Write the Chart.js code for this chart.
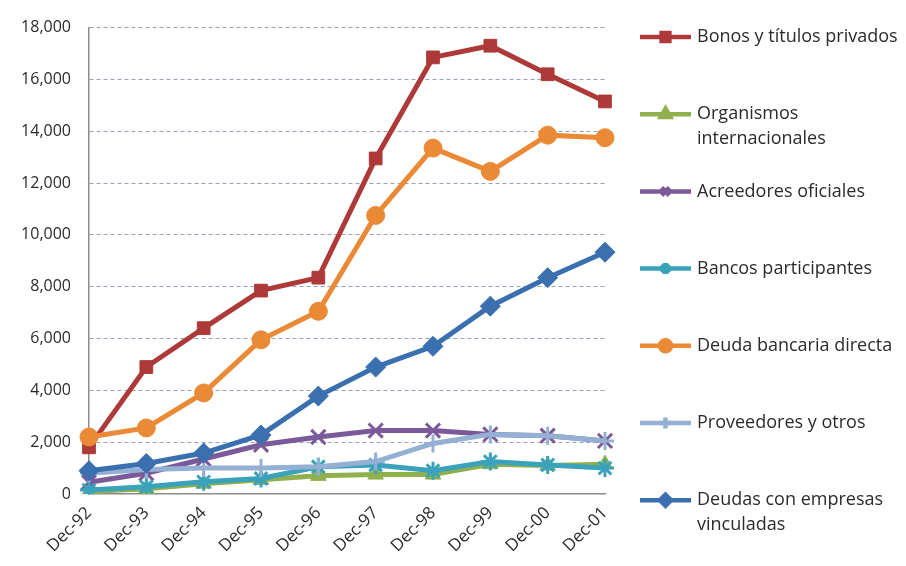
<!DOCTYPE html>
<html>
<head>
<meta charset="utf-8">
<script src="https://cdn.jsdelivr.net/npm/chart.js@4.4.0/dist/chart.umd.min.js"></script>
<style>
  html, body { margin: 0; padding: 0; background: #fff; }
  #wrap { width: 906px; height: 566px; position: relative; }
</style>
</head>
<body>
<div id="wrap"><canvas id="chart" width="906" height="566"></canvas></div>
<script>
const years = ["Dec-92", "Dec-93", "Dec-94", "Dec-95", "Dec-96", "Dec-97", "Dec-98", "Dec-99", "Dec-00", "Dec-01"];

const bonos       = [1800, 4900, 6400, 7850, 8350, 12950, 16850, 17300, 16200, 15150];
const organismos  = [100, 200, 400, 550, 700, 750, 750, 1150, 1100, 1150];
const acreedores  = [450, 800, 1350, 1900, 2200, 2450, 2450, 2300, 2250, 2050];
const bancos      = [150, 280, 470, 600, 1050, 1120, 900, 1250, 1120, 1000];
const deudaBanc   = [2200, 2550, 3900, 5950, 7050, 10750, 13350, 12450, 13850, 13750];
const proveedores = [800, 950, 1000, 1000, 1050, 1250, 1950, 2300, 2250, 2050];
const vinculadas  = [900, 1180, 1580, 2280, 3780, 4900, 5700, 7250, 8350, 9330];

const seriesNames = [
  ["Bonos y títulos privados"],
  ["Organismos", "internacionales"],
  ["Acreedores oficiales"],
  ["Bancos participantes"],
  ["Deuda bancaria directa"],
  ["Proveedores y otros"],
  ["Deudas con empresas", "vinculadas"]
];

const yTicks = [0, 2000, 4000, 6000, 8000, 10000, 12000, 14000, 16000, 18000];

const FONT = "'Open Sans', sans-serif";

// style per series: colour, marker, marker size
const styles = [
  { color: "#ad3a38", point: "rect",     r: 9 },
  { color: "#8fb04c", point: "triangle", r: 9 },
  { color: "#7a5a98", point: "crossRot", r: 10 },
  { color: "#3aa3bb", point: "star",     r: 9 },
  { color: "#ea8a37", point: "circle",   r: 9 },
  { color: "#94b0d4", point: "cross",    r: 9 },
  { color: "#3a6fb0", point: "rectRot",  r: 10 }
];

const allData = [bonos, organismos, acreedores, bancos, deudaBanc, proveedores, vinculadas];

const thin = ["crossRot", "star", "cross"];

const datasets = allData.map((d, i) => ({
  label: seriesNames[i].join(" "),
  data: d,
  borderColor: styles[i].color,
  backgroundColor: styles[i].color,
  borderWidth: 5,
  pointStyle: styles[i].point,
  pointRadius: styles[i].r,
  pointBorderWidth: thin.includes(styles[i].point) ? 3 : 1,
  pointBorderColor: styles[i].color,
  pointBackgroundColor: styles[i].color,
  tension: 0,
  order: allData.length - i   // later series drawn on top, like Excel
}));

// legend drawn by hand so the two-line labels fit
const sideLegend = {
  id: "sideLegend",
  afterDraw(chart) {
    const ctx = chart.ctx;
    ctx.save();
    ctx.font = "18px " + FONT;
    ctx.textBaseline = "middle";
    ctx.textAlign = "left";
    seriesNames.forEach((lines, i) => {
      const y = 37 + i * 77.2;
      const st = styles[i];
      ctx.strokeStyle = st.color;
      ctx.lineWidth = 4.5;
      ctx.beginPath();
      ctx.moveTo(640, y);
      ctx.lineTo(691, y);
      ctx.stroke();
      ctx.fillStyle = st.color;
      Chart.helpers.drawPoint(ctx, {
        pointStyle: st.point, radius: 5.5, rotation: 0, borderWidth: 2
      }, 665.5, y);
      ctx.fillStyle = "#2b2b2b";
      lines.forEach((t, k) => ctx.fillText(t, 697, y + k * 25));
    });
    ctx.restore();
  }
};

new Chart(document.getElementById("chart"), {
  type: "line",
  data: { labels: years, datasets },
  options: {
    responsive: false,
    animation: false,
    layout: { padding: { left: 0, right: 301, top: 20, bottom: 0 } },
    plugins: {
      legend: { display: false },
      tooltip: { enabled: false }
    },
    scales: {
      x: {
        offset: false,
        grid: { display: false, drawTicks: true, tickLength: 7, tickColor: "#8c8c8c" },
        border: { display: true, color: "#8c8c8c", width: 1.5 },
        ticks: {
          minRotation: 45, maxRotation: 45,
          color: "#2b2b2b",
          font: { family: FONT, size: 17 },
          padding: 2
        },
        afterFit(scale) { scale.height = 72; }
      },
      y: {
        min: 0, max: 18000,
        afterBuildTicks(scale) { scale.ticks = yTicks.map(v => ({ value: v })); },
        grid: {
          color: (c) => c.tick && c.tick.value === 0 ? "rgba(0,0,0,0)" : "#93a3bf",
          lineWidth: 1,
          drawTicks: false
        },
        border: { display: true, color: "#8c8c8c", width: 1.5, dash: [4, 3] },
        ticks: {
          color: "#2b2b2b",
          font: { family: FONT, size: 16 },
          padding: 18,
          callback: (v) => v.toLocaleString("en-US")
        },
        afterFit(scale) { scale.width = 89; }
      }
    }
  },
  plugins: [sideLegend]
});
</script>
</body>
</html>
